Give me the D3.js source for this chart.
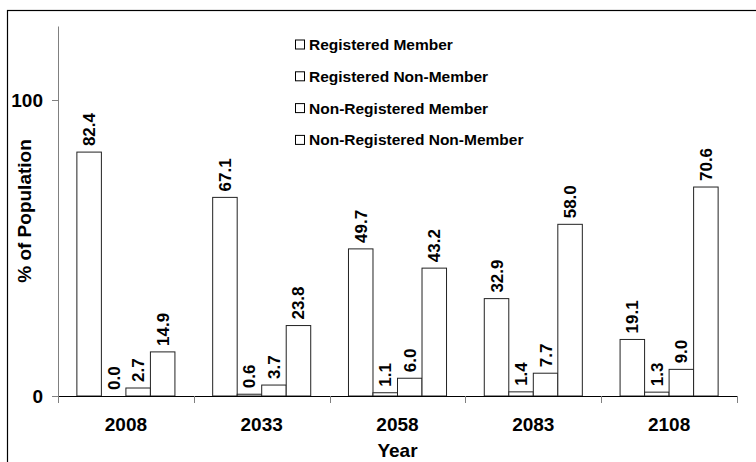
<!DOCTYPE html>
<html>
<head>
<meta charset="utf-8">
<script src="https://cdn.jsdelivr.net/npm/d3@7"></script>
<style>
  body { margin: 0; background: #fff; }
  svg { display: block; font-family: "Liberation Sans", Arial, sans-serif; font-weight: bold; }
</style>
</head>
<body>
<svg id="chart" width="756" height="462"></svg>
<script>
// chart data
const years = ["2008", "2033", "2058", "2083", "2108"];
const series = ["Registered Member", "Registered Non-Member", "Non-Registered Member", "Non-Registered Non-Member"];
const registeredMember = [82.4, 67.1, 49.7, 32.9, 19.1];
const registeredNonMember = [0.0, 0.6, 1.1, 1.4, 1.3];
const nonRegisteredMember = [2.7, 3.7, 6.0, 7.7, 9.0];
const nonRegisteredNonMember = [14.9, 23.8, 43.2, 58.0, 70.6];
const yTicks = [0, 100];

const values = [registeredMember, registeredNonMember, nonRegisteredMember, nonRegisteredNonMember];

const svg = d3.select("#chart");

// outer frame (cut off at right and bottom)
svg.append("rect")
  .attr("x", 7.5).attr("y", 10.5)
  .attr("width", 900).attr("height", 600)
  .attr("fill", "none")
  .attr("stroke", "#000")
  .attr("stroke-width", 1.2);

const plotLeft = 58, plotRight = 737, plotTop = 26, plotBottom = 396;

const x0 = d3.scaleBand().domain(years).range([plotLeft, plotRight]).padding(0);
const x1 = d3.scaleBand().domain(d3.range(series.length))
  .range([0, x0.bandwidth()]).paddingInner(0).paddingOuter(0.77);
const y = d3.scaleLinear().domain([0, 125]).range([plotBottom, plotTop]);

// y axis
const yAxis = svg.append("g")
  .attr("transform", "translate(" + plotLeft + ",0)")
  .call(d3.axisLeft(y).tickValues(yTicks).tickSize(6).tickSizeOuter(0).tickPadding(9).tickFormat(d3.format("d")));
yAxis.select(".domain").attr("stroke", "#808080");
yAxis.selectAll(".tick line").attr("stroke", "#808080");
yAxis.selectAll(".tick text")
  .attr("font-size", "19px")
  .attr("font-weight", "bold")
  .attr("font-family", "Liberation Sans, Arial, sans-serif")
  .attr("fill", "#000");

// bars
const groups = svg.append("g").selectAll("g")
  .data(years)
  .join("g")
  .attr("transform", d => "translate(" + x0(d) + ",0)");

groups.selectAll("rect")
  .data((d, i) => values.map((v, s) => ({s: s, v: v[i]})))
  .join("rect")
  .attr("x", d => x1(d.s))
  .attr("y", d => y(d.v))
  .attr("width", x1.bandwidth())
  .attr("height", d => y(0) - y(d.v))
  .attr("fill", "#fff")
  .attr("stroke", "#222")
  .attr("stroke-width", 1);

groups.selectAll("text")
  .data((d, i) => values.map((v, s) => ({s: s, v: v[i]})))
  .join("text")
  .attr("transform", d => "translate(" + (x1(d.s) + x1.bandwidth() / 2 + 6) + "," + (y(d.v) - 6) + ") rotate(-90)")
  .attr("font-size", "17px")
  .attr("fill", "#000")
  .text(d => d.v.toFixed(1));

// x axis
svg.append("line")
  .attr("x1", plotLeft).attr("x2", plotRight)
  .attr("y1", plotBottom + 0.5).attr("y2", plotBottom + 0.5)
  .attr("stroke", "#000")
  .attr("stroke-width", 1.2);

const bounds = years.map(d => x0(d)).concat([x0(years[years.length - 1]) + x0.bandwidth()]);
svg.append("g").selectAll("line")
  .data(bounds)
  .join("line")
  .attr("x1", d => Math.round(d) + 0.5).attr("x2", d => Math.round(d) + 0.5)
  .attr("y1", plotBottom).attr("y2", plotBottom + 7)
  .attr("stroke", "#808080");

svg.append("g").selectAll("text")
  .data(years)
  .join("text")
  .attr("x", d => x0(d) + x0.bandwidth() / 2)
  .attr("y", 431)
  .attr("text-anchor", "middle")
  .attr("font-size", "19px")
  .text(d => d);

// axis titles
svg.append("text")
  .attr("x", (plotLeft + plotRight) / 2)
  .attr("y", 457)
  .attr("text-anchor", "middle")
  .attr("font-size", "19px")
  .text("Year");

svg.append("text")
  .attr("transform", "translate(31," + ((plotTop + plotBottom) / 2) + ") rotate(-90)")
  .attr("text-anchor", "middle")
  .attr("font-size", "19px")
  .text("% of Population");

// legend
const legend = svg.append("g").selectAll("g")
  .data(series)
  .join("g")
  .attr("transform", (d, i) => "translate(295," + (44.5 + i * 31.8) + ")");

legend.append("rect")
  .attr("x", 0.5).attr("y", -4.5)
  .attr("width", 9).attr("height", 9)
  .attr("fill", "#fff")
  .attr("stroke", "#000")
  .attr("stroke-width", 1);

legend.append("text")
  .attr("x", 14)
  .attr("y", 5.5)
  .attr("font-size", "15.5px")
  .text(d => d);
</script>
</body>
</html>
